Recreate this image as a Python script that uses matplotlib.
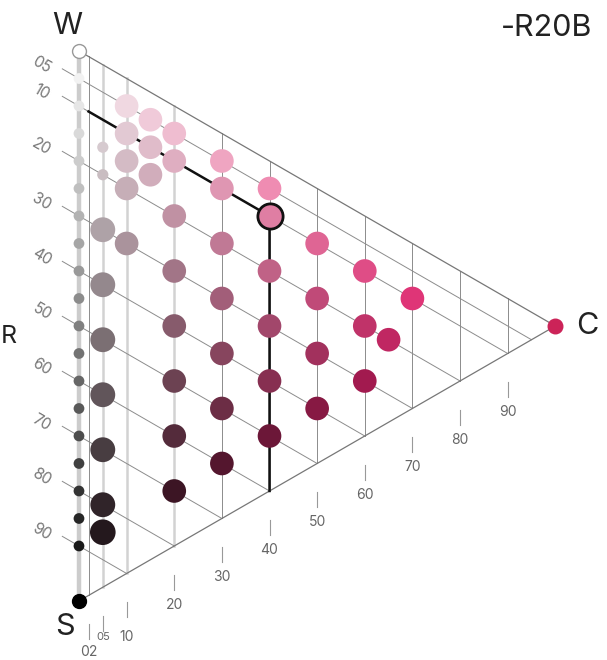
#! /usr/bin/env python3
import numpy as np
import matplotlib.pyplot as plt

# NCS triangle for hue R20B: each sample is (blackness s, chromaticness c)
dot_s = [5, 10, 20, 30, 40, 50,
         10, 20, 30, 40,
         10, 20, 30,
         10, 20,
         5, 10, 20, 30, 40, 50, 60,
         5, 10, 20, 30, 40, 50, 60, 70,
         5, 10, 15,
         5, 10, 15, 20, 30]
dot_c = [40, 40, 40, 40, 40, 40,
         50, 50, 50, 50,
         60, 60, 60,
         70, 65,
         30, 30, 30, 30, 30, 30, 30,
         20, 20, 20, 20, 20, 20, 20, 20,
         15, 15, 15,
         10, 10, 10, 10, 10]

# c=05 column: small and large samples
small05_s = [15, 20]
large05_s = [30, 40, 50, 60, 70, 80, 85]

# neutral grey scale on the W-S edge
grey_s = [5, 10, 15, 20, 25, 30, 35, 40, 45, 50, 55, 60, 65, 70, 75, 80, 85, 90]

# highlighted sample S 1040-R20B
hl_s, hl_c = 10, 40

s_ticks = [5, 10, 20, 30, 40, 50, 60, 70, 80, 90]
c_ticks = [2, 5, 10, 20, 30, 40, 50, 60, 70, 80, 90]
c_labels = ["02", "05", "10", "20", "30", "40", "50", "60", "70", "80", "90"]

K = np.sqrt(3) / 2
HUE = np.array([1.0, 0.02, 0.40])


def tri(s, c):
    """blackness/chromaticness -> plane coordinates (S at origin)"""
    s = np.asarray(s, dtype=float)
    c = np.asarray(c, dtype=float)
    return c * K, 100 - s - c / 2


def ncs_rgb(s, c):
    w = (100 - s - c) / 100
    col = w * np.ones(3) + c / 100 * HUE
    # chromatic dark shades look deeper than a plain mix
    col = col * (1 - 0.3 * s / 100 * min(c, 20) / 20)
    return tuple(np.clip(col, 0, 1))


fig = plt.figure(figsize=(6.07, 6.6), dpi=100)
ax = fig.add_axes([0, 0, 1, 1])
ax.set_xlim(-14.36, 96.0)
ax.set_ylim(-10.73, 109.27)
ax.axis("off")

txt = dict(family=["Inter", "DejaVu Sans"])

# W-S grey scale strip
ax.plot([0, 0], [0, 100], color="#cccccc", lw=3.2, zorder=1,
        solid_capstyle="butt")

# lines of constant chromaticness
for c in c_ticks:
    x, y0 = tri(0, c)
    _, y1 = tri(100 - c, c)
    if c in (5, 10, 20):
        ax.plot([x, x], [y0, y1], color="#d2d2d2", lw=1.8, zorder=1)
    else:
        ax.plot([x, x], [y0, y1], color="#8c8c8c", lw=0.7, zorder=1)

# lines of constant blackness, with a short tick outside the edge
for s in s_ticks:
    x, y = tri([s, s], [-3.5, 100 - s])
    ax.plot(x, y, color="#8c8c8c", lw=0.7, zorder=1)
    lx, ly = tri(s, -7.8)
    ax.text(lx, ly - 1.4, "%02d" % s, rotation=-30, ha="center",
            va="center", fontsize=11, color="#777777", **txt)

# triangle edges W-C and S-C
x, y = tri([0, 0], [0, 100])
ax.plot(x, y, color="#777777", lw=0.9, zorder=1)
x, y = tri([100, 0], [0, 100])
ax.plot(x, y, color="#777777", lw=0.9, zorder=1)

# chromaticness ticks and labels below S-C edge
for c, lab in zip(c_ticks, c_labels):
    x, y = tri(100 - c, c)
    ax.plot([x, x], [y - 5.2, y - 8.0], color="#999999", lw=0.8)
    if c == 2:
        ly = -9.3
    elif c in (5, 10):
        ly = -6.6
    else:
        ly = y - 10.7
    ax.text(x, ly, lab, ha="center", va="center",
            fontsize=8 if c == 5 else 10, color="#666666", **txt)

# highlighted path: along s=10 then down c=40
x, y = tri([hl_s, hl_s, 100 - hl_c], [2, hl_c, hl_c])
ax.plot(x, y, color="#111111", lw=1.8, zorder=2)

# grey scale dots
x, y = tri(grey_s, [0] * len(grey_s))
ax.scatter(x, y, s=60, c=[ncs_rgb(s, 0) for s in grey_s],
           edgecolors="none", zorder=3)

# c=05 column
x, y = tri(small05_s, [5] * len(small05_s))
ax.scatter(x, y, s=65, c=[ncs_rgb(s, 5) for s in small05_s],
           edgecolors="none", zorder=3)
x, y = tri(large05_s, [5] * len(large05_s))
sizes = [340 if s == 85 else 320 for s in large05_s]
ax.scatter(x, y, s=sizes, c=[ncs_rgb(s, 5) for s in large05_s],
           edgecolors="none", zorder=3)

# chromatic samples
x, y = tri(dot_s, dot_c)
ax.scatter(x, y, s=290, c=[ncs_rgb(s, c) for s, c in zip(dot_s, dot_c)],
           edgecolors="none", zorder=3)

# highlighted sample outline
x, y = tri(hl_s, hl_c)
ax.scatter([x], [y], s=330, facecolors=[ncs_rgb(hl_s, hl_c)],
           edgecolors="#111111", linewidths=2.0, zorder=4)

# corners W, S, C
x, y = tri(0, 0)
ax.scatter([x], [y], s=100, facecolors="white", edgecolors="#999999",
           linewidths=1.0, zorder=4)
x, y = tri(100, 0)
ax.scatter([x], [y], s=100, color="black", zorder=4)
x, y = tri(0, 100)
ax.scatter([x], [y], s=110, color="#cc2358", zorder=4)

ax.text(-2.1, 104.5, "W", ha="center", va="center", fontsize=22,
        color="#222222", **txt)
ax.text(-2.5, -4.7, "S", ha="center", va="center", fontsize=22,
        color="#222222", **txt)
ax.text(92.4, 50, "C", ha="center", va="center", fontsize=22,
        color="#222222", **txt)
ax.text(85.1, 104.2, "-R20B", ha="center", va="center", fontsize=22,
        color="#222222", **txt)
ax.text(-14.25, 48, "R", ha="left", va="center", fontsize=18,
        color="#222222", **txt)

fig.savefig("out.png", dpi=100)
